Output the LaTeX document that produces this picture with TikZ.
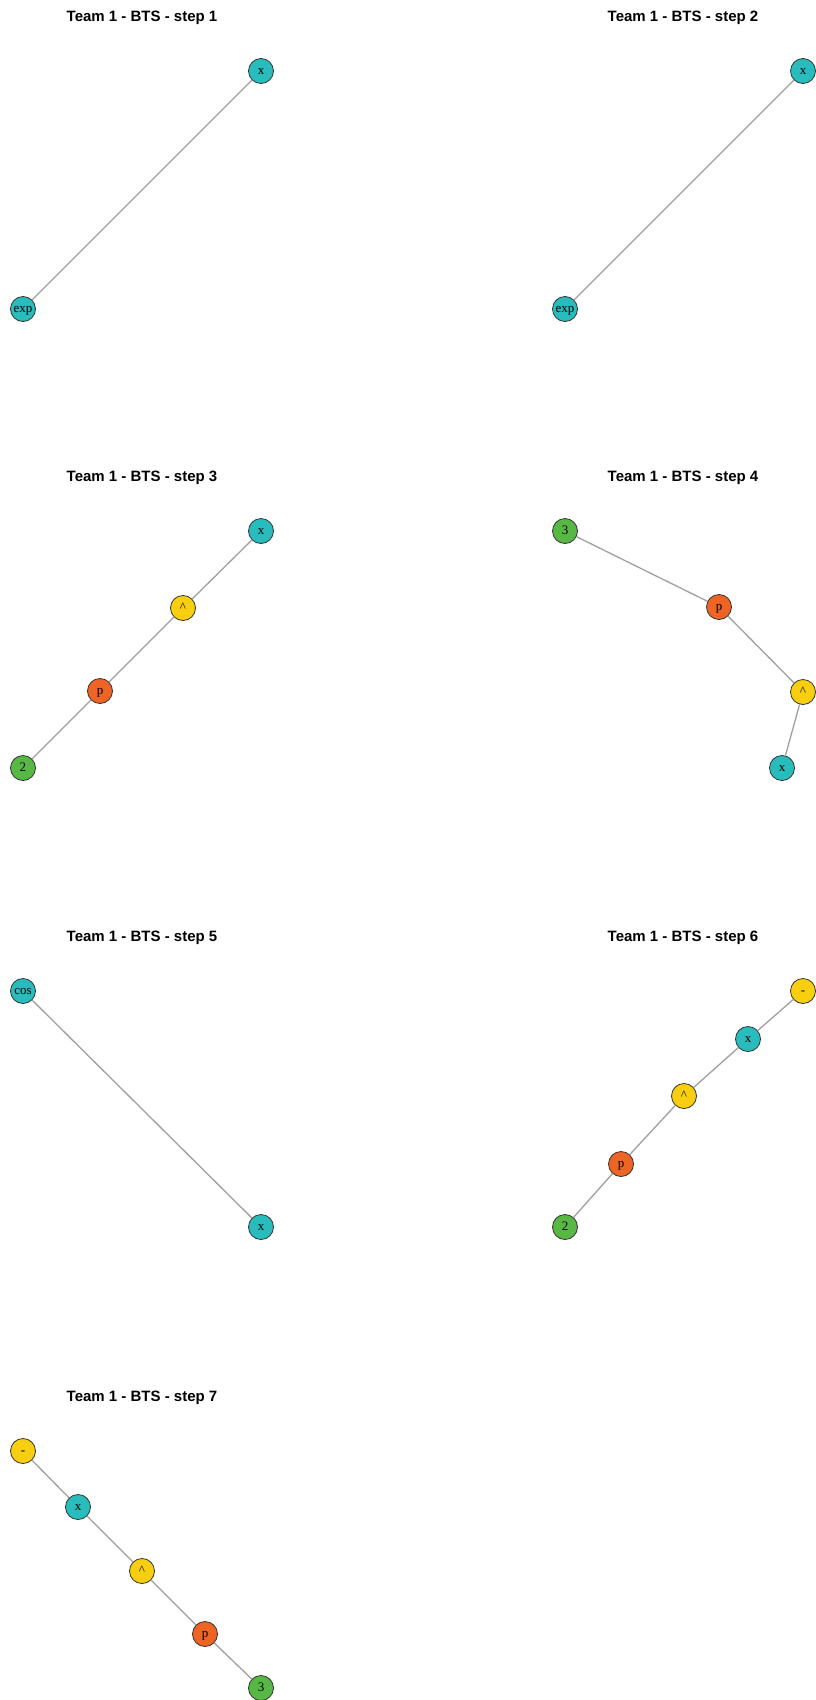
\documentclass[tikz,border=0pt]{standalone}
\usepackage{fontspec}
\newfontfamily\titlefont{Liberation Sans}
\newfontfamily\nodefont{Liberation Serif}
\definecolor{cteal}{RGB}{40,188,189}
\definecolor{cyell}{RGB}{248,206,16}
\definecolor{coran}{RGB}{238,100,36}
\definecolor{cgreen}{RGB}{88,184,70}
\definecolor{cedge}{RGB}{160,160,160}
\definecolor{cborder}{RGB}{50,50,50}
\tikzset{
  vtx/.style={circle, draw=cborder, line width=0.8pt, minimum size=25pt, inner sep=0pt,
    text height=9pt, text depth=3pt,
    font=\nodefont\fontsize{13}{13}\selectfont},
  vteal/.style={vtx, fill=cteal},
  vyell/.style={vtx, fill=cyell},
  voran/.style={vtx, fill=coran},
  vgreen/.style={vtx, fill=cgreen},
  ttl/.style={font=\titlefont\bfseries\fontsize{15}{15}\selectfont, inner sep=0pt},
  edg/.style={draw=cedge, line width=1.3pt}
}
\begin{document}
\begin{tikzpicture}[x=1pt,y=-1pt]
\useasboundingbox[fill=white] (0,0) rectangle (816,1700);
% panel 1
\node[ttl] (t1) at (142,18) {Team 1 - BTS - step 1};
\node[vteal] (a1x) at (261,71) {x};
\node[vteal] (a1e) at (23,309) {exp};
\draw[edg] (a1x) -- (a1e);
% panel 2
\node[ttl] (t2) at (683,18) {Team 1 - BTS - step 2};
\node[vteal] (a2x) at (803,71) {x};
\node[vteal] (a2e) at (565,309) {exp};
\draw[edg] (a2x) -- (a2e);
% panel 3
\node[ttl] (t3) at (142,478) {Team 1 - BTS - step 3};
\node[vteal] (a3x) at (261,531) {x};
\node[vyell] (a3c) at (183,608) {\textasciicircum};
\node[voran] (a3p) at (100,691) {p};
\node[vgreen] (a32) at (23,768) {2};
\draw[edg] (a3x) -- (a3c);
\draw[edg] (a3c) -- (a3p);
\draw[edg] (a3p) -- (a32);
% panel 4
\node[ttl] (t4) at (683,478) {Team 1 - BTS - step 4};
\node[vgreen] (a43) at (565,531) {3};
\node[voran] (a4p) at (719,607) {p};
\node[vyell] (a4c) at (803,692) {\textasciicircum};
\node[vteal] (a4x) at (782,768) {x};
\draw[edg] (a43) -- (a4p);
\draw[edg] (a4p) -- (a4c);
\draw[edg] (a4c) -- (a4x);
% panel 5
\node[ttl] (t5) at (142,938) {Team 1 - BTS - step 5};
\node[vteal] (a5c) at (23,991) {cos};
\node[vteal] (a5x) at (261,1227) {x};
\draw[edg] (a5c) -- (a5x);
% panel 6
\node[ttl] (t6) at (683,938) {Team 1 - BTS - step 6};
\node[vyell] (a6m) at (803,991) {-};
\node[vteal] (a6x) at (748,1039) {x};
\node[vyell] (a6c) at (684,1096) {\textasciicircum};
\node[voran] (a6p) at (621,1164) {p};
\node[vgreen] (a62) at (565,1227) {2};
\draw[edg] (a6m) -- (a6x);
\draw[edg] (a6x) -- (a6c);
\draw[edg] (a6c) -- (a6p);
\draw[edg] (a6p) -- (a62);
% panel 7
\node[ttl] (t7) at (142,1398) {Team 1 - BTS - step 7};
\node[vyell] (a7m) at (23,1451) {-};
\node[vteal] (a7x) at (78,1507) {x};
\node[vyell] (a7c) at (142,1571) {\textasciicircum};
\node[voran] (a7p) at (205,1634) {p};
\node[vgreen] (a73) at (261,1688) {3};
\draw[edg] (a7m) -- (a7x);
\draw[edg] (a7x) -- (a7c);
\draw[edg] (a7c) -- (a7p);
\draw[edg] (a7p) -- (a73);
\end{tikzpicture}
\end{document}
